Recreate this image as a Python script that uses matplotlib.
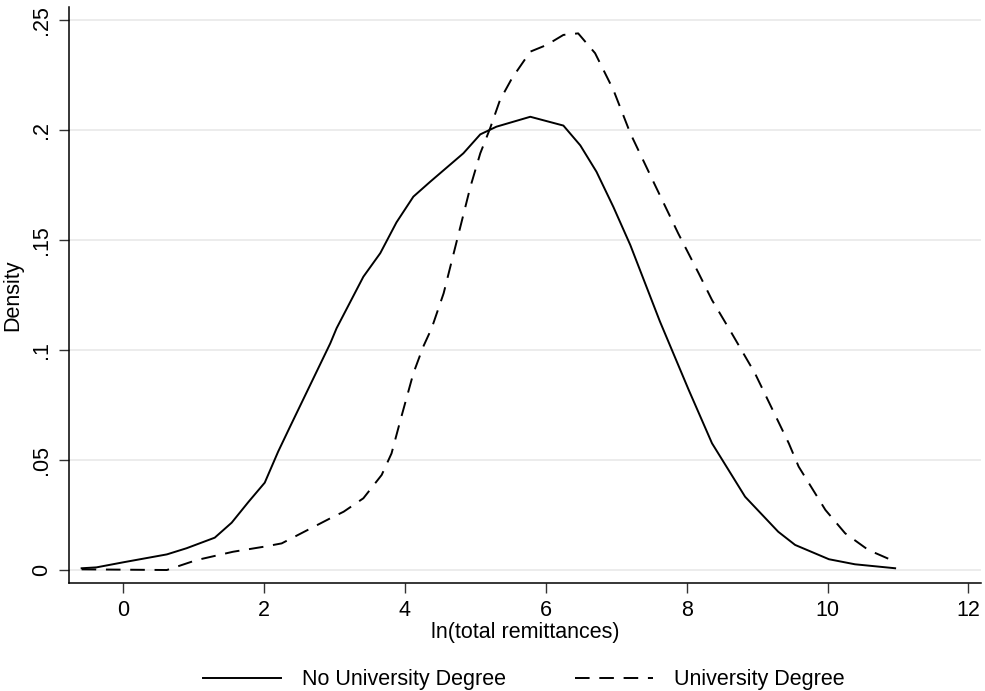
import matplotlib.pyplot as plt

plt.rcParams['font.family'] = ['Liberation Sans', 'DejaVu Sans']

# No University Degree (solid)
x_no = [-0.59, -0.38, 0.0, 0.62, 0.9, 1.30, 1.54, 1.78, 2.01, 2.20, 2.37, 2.94,
        3.03, 3.41, 3.65, 3.88, 4.12, 4.36, 4.83, 5.07, 5.30, 5.78, 6.25, 6.49,
        6.72, 6.96, 7.20, 7.62, 8.03, 8.36, 8.83, 9.30, 9.54, 10.02, 10.39, 10.96]
y_no = [0.0008, 0.0012, 0.0035, 0.0071, 0.0099, 0.0147, 0.0215, 0.031, 0.0397,
        0.0538, 0.0652, 0.103, 0.1099, 0.1333, 0.144, 0.158, 0.1697, 0.1765,
        0.1894, 0.198, 0.2015, 0.206, 0.202, 0.193, 0.181, 0.165, 0.1477, 0.113,
        0.0818, 0.0576, 0.0333, 0.0174, 0.0114, 0.0049, 0.0026, 0.0008]

# University Degree (dashed)
x_uni = [-0.59, 0.62, 1.04, 1.56, 2.0, 2.25, 2.94, 3.13, 3.41, 3.67, 3.81, 3.95,
         4.12, 4.26, 4.38, 4.55, 4.74, 4.93, 5.07, 5.21, 5.35, 5.52, 5.78, 6.01,
         6.25, 6.46, 6.70, 6.96, 7.20, 7.55, 7.88, 8.17, 8.36, 8.64, 8.97, 9.45,
         9.59, 9.97, 10.25, 10.58, 10.91]
y_uni = [0.0003, 0.0, 0.0045, 0.0083, 0.0106, 0.0121, 0.0235, 0.0265, 0.0326,
         0.0432, 0.053, 0.0697, 0.0894, 0.1015, 0.1099, 0.1258, 0.15, 0.1742,
         0.1894, 0.2008, 0.2136, 0.2235, 0.2356, 0.2386, 0.2432, 0.2439, 0.2349,
         0.2182, 0.1985, 0.175, 0.153, 0.1349, 0.1227, 0.1076, 0.0894, 0.0576,
         0.047, 0.0273, 0.0167, 0.0091, 0.0045]

xticks = [0, 2, 4, 6, 8, 10, 12]
yticks = [0, 0.05, 0.1, 0.15, 0.2, 0.25]
ytick_labels = ['0', '.05', '.1', '.15', '.2', '.25']

fig = plt.figure(figsize=(9.85, 6.91), dpi=100)
ax = fig.add_axes([0.070, 0.1563, 0.926, 0.8336])

ax.plot(x_no, y_no, color='black', lw=1.4, label='No University Degree')
ax.plot(x_uni, y_uni, color='black', lw=1.4, dashes=(7.5, 5),
        label='University Degree')

ax.set_xlim(-0.77, 12.18)
ax.set_ylim(-0.0059, 0.2559)
ax.set_xticks(xticks)
ax.set_yticks(yticks)
ax.set_yticklabels(ytick_labels, rotation=90, va='center')
ax.tick_params(labelsize=15.5, length=7, width=1, color='#333333', pad=5)
ax.grid(axis='y', color='#EAEAEA', lw=1.3)
ax.set_axisbelow(True)
for s in ['top', 'right']:
    ax.spines[s].set_visible(False)
for s in ['left', 'bottom']:
    ax.spines[s].set_linewidth(1.1)

ax.set_xlabel('ln(total remittances)', fontsize=15.5, labelpad=1)
ax.set_ylabel('Density', fontsize=15.5, labelpad=6)

fig.legend(loc='lower center', bbox_to_anchor=(0.532, -0.027), ncol=2,
           frameon=False, fontsize=15.5, handlelength=3.6, columnspacing=3.2,
           handletextpad=1.0)

fig.savefig('out.png', dpi=100)
